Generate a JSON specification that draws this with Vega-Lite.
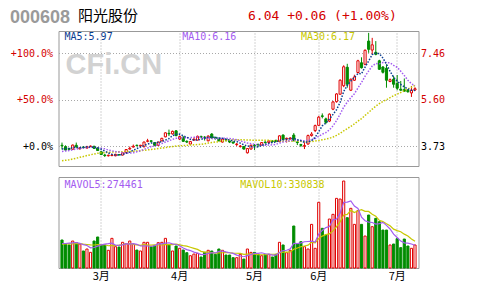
{
  "$schema": "https://vega.github.io/schema/vega-lite/v6.json",
  "background": "white",
  "padding": {"left": 8.5, "top": 7, "right": 0, "bottom": 0},
  "autosize": {"type": "pad"},
  "config": {
    "view": {"stroke": "#999999", "strokeWidth": 1},
    "axis": {"gridColor": "#a8a8a8", "gridDash": [1, 2], "gridWidth": 1, "gridOpacity": 1, "ticks": false, "tickSize": 0, "domain": false, "labelFont": "DejaVu Sans Mono", "labelFontSize": 10, "labelColor": "black", "titleFontWeight": "normal"}
  },
  "data": {"values": [
    {"d":"2009-02-13","o":3.77,"h":3.88,"l":3.60,"c":3.75,"v":351000,"m5":3.62,"m10":3.52,"m30":3.15,"v5":300000,"v10":290000},
    {"d":"2009-02-16","o":3.72,"h":3.77,"l":3.55,"c":3.58,"v":292000,"m5":3.64,"m10":3.54,"m30":3.17,"v5":300000,"v10":292000},
    {"d":"2009-02-17","o":3.64,"h":3.67,"l":3.57,"c":3.61,"v":278000,"m5":3.64,"m10":3.56,"m30":3.19,"v5":305000,"v10":293000},
    {"d":"2009-02-18","o":3.61,"h":3.80,"l":3.59,"c":3.78,"v":336000,"m5":3.68,"m10":3.59,"m30":3.22,"v5":310000,"v10":295000},
    {"d":"2009-02-19","o":3.77,"h":3.88,"l":3.65,"c":3.72,"v":312000,"m5":3.69,"m10":3.62,"m30":3.25,"v5":314000,"v10":297000},
    {"d":"2009-02-20","o":3.63,"h":3.70,"l":3.60,"c":3.66,"v":292000,"m5":3.67,"m10":3.64,"m30":3.29,"v5":302000,"v10":298000},
    {"d":"2009-02-23","o":3.70,"h":3.74,"l":3.64,"c":3.68,"v":190000,"m5":3.69,"m10":3.66,"m30":3.32,"v5":282000,"v10":290000},
    {"d":"2009-02-24","o":3.66,"h":3.75,"l":3.64,"c":3.71,"v":219000,"m5":3.71,"m10":3.68,"m30":3.36,"v5":270000,"v10":285000},
    {"d":"2009-02-25","o":3.72,"h":3.76,"l":3.70,"c":3.74,"v":170000,"m5":3.70,"m10":3.69,"m30":3.39,"v5":237000,"v10":280000},
    {"d":"2009-02-26","o":3.73,"h":3.75,"l":3.62,"c":3.65,"v":336000,"m5":3.69,"m10":3.69,"m30":3.42,"v5":241000,"v10":278000},
    {"d":"2009-02-27","o":3.66,"h":3.70,"l":3.55,"c":3.56,"v":395000,"m5":3.67,"m10":3.67,"m30":3.45,"v5":262000,"v10":282000},
    {"d":"2009-03-02","o":3.51,"h":3.53,"l":3.38,"c":3.40,"v":278000,"m5":3.61,"m10":3.65,"m30":3.47,"v5":280000,"v10":281000},
    {"d":"2009-03-03","o":3.38,"h":3.43,"l":3.30,"c":3.36,"v":278000,"m5":3.54,"m10":3.63,"m30":3.48,"v5":291000,"v10":281000},
    {"d":"2009-03-04","o":3.35,"h":3.40,"l":3.32,"c":3.37,"v":200000,"m5":3.46,"m10":3.58,"m30":3.49,"v5":297000,"v10":267000},
    {"d":"2009-03-05","o":3.36,"h":3.42,"l":3.33,"c":3.38,"v":375000,"m5":3.41,"m10":3.55,"m30":3.50,"v5":305000,"v10":273000},
    {"d":"2009-03-06","o":3.35,"h":3.43,"l":3.33,"c":3.41,"v":253000,"m5":3.38,"m10":3.52,"m30":3.50,"v5":277000,"v10":269000},
    {"d":"2009-03-09","o":3.40,"h":3.42,"l":3.35,"c":3.39,"v":248000,"m5":3.38,"m10":3.50,"m30":3.51,"v5":271000,"v10":275000},
    {"d":"2009-03-10","o":3.38,"h":3.49,"l":3.36,"c":3.47,"v":317000,"m5":3.40,"m10":3.47,"m30":3.51,"v5":279000,"v10":285000},
    {"d":"2009-03-11","o":3.48,"h":3.62,"l":3.46,"c":3.60,"v":297000,"m5":3.45,"m10":3.46,"m30":3.52,"v5":298000,"v10":298000},
    {"d":"2009-03-12","o":3.62,"h":3.72,"l":3.60,"c":3.65,"v":336000,"m5":3.50,"m10":3.46,"m30":3.52,"v5":290000,"v10":298000},
    {"d":"2009-03-13","o":3.70,"h":3.80,"l":3.68,"c":3.73,"v":288000,"m5":3.57,"m10":3.47,"m30":3.53,"v5":297000,"v10":287000},
    {"d":"2009-03-16","o":3.77,"h":3.80,"l":3.72,"c":3.76,"v":204000,"m5":3.64,"m10":3.51,"m30":3.54,"v5":288000,"v10":280000},
    {"d":"2009-03-17","o":3.74,"h":3.79,"l":3.72,"c":3.77,"v":190000,"m5":3.70,"m10":3.55,"m30":3.55,"v5":263000,"v10":271000},
    {"d":"2009-03-18","o":3.71,"h":3.92,"l":3.69,"c":3.90,"v":317000,"m5":3.76,"m10":3.61,"m30":3.57,"v5":267000,"v10":283000},
    {"d":"2009-03-19","o":3.93,"h":4.03,"l":3.89,"c":3.95,"v":317000,"m5":3.82,"m10":3.66,"m30":3.59,"v5":263000,"v10":277000},
    {"d":"2009-03-20","o":3.95,"h":3.97,"l":3.88,"c":3.93,"v":253000,"m5":3.86,"m10":3.72,"m30":3.60,"v5":256000,"v10":277000},
    {"d":"2009-03-23","o":3.88,"h":3.90,"l":3.74,"c":3.76,"v":268000,"m5":3.86,"m10":3.75,"m30":3.62,"v5":269000,"v10":279000},
    {"d":"2009-03-24","o":3.77,"h":3.92,"l":3.75,"c":3.90,"v":312000,"m5":3.89,"m10":3.80,"m30":3.64,"v5":293000,"v10":278000},
    {"d":"2009-03-25","o":3.95,"h":4.07,"l":3.93,"c":4.05,"v":317000,"m5":3.92,"m10":3.84,"m30":3.66,"v5":293000,"v10":280000},
    {"d":"2009-03-26","o":4.11,"h":4.29,"l":4.09,"c":4.27,"v":375000,"m5":3.98,"m10":3.90,"m30":3.68,"v5":305000,"v10":284000},
    {"d":"2009-03-27","o":4.25,"h":4.40,"l":4.14,"c":4.23,"v":278000,"m5":4.04,"m10":3.95,"m30":3.70,"v5":310000,"v10":283000},
    {"d":"2009-03-30","o":4.23,"h":4.36,"l":4.20,"c":4.33,"v":190000,"m5":4.16,"m10":4.01,"m30":3.72,"v5":294000,"v10":282000},
    {"d":"2009-03-31","o":4.35,"h":4.38,"l":4.13,"c":4.16,"v":263000,"m5":4.21,"m10":4.05,"m30":3.74,"v5":285000,"v10":289000},
    {"d":"2009-04-01","o":4.02,"h":4.16,"l":3.98,"c":4.12,"v":229000,"m5":4.22,"m10":4.07,"m30":3.75,"v5":267000,"v10":280000},
    {"d":"2009-04-02","o":4.10,"h":4.13,"l":3.91,"c":3.93,"v":204000,"m5":4.15,"m10":4.07,"m30":3.76,"v5":233000,"v10":269000},
    {"d":"2009-04-03","o":3.93,"h":3.97,"l":3.86,"c":3.90,"v":165000,"m5":4.09,"m10":4.07,"m30":3.77,"v5":210000,"v10":260000},
    {"d":"2009-04-07","o":3.82,"h":3.94,"l":3.80,"c":3.92,"v":121000,"m5":4.01,"m10":4.08,"m30":3.78,"v5":196000,"v10":245000},
    {"d":"2009-04-08","o":3.98,"h":4.08,"l":3.95,"c":4.01,"v":145000,"m5":3.98,"m10":4.09,"m30":3.79,"v5":173000,"v10":229000},
    {"d":"2009-04-09","o":3.98,"h":4.16,"l":3.96,"c":4.13,"v":155000,"m5":3.98,"m10":4.10,"m30":3.80,"v5":158000,"v10":213000},
    {"d":"2009-04-10","o":4.12,"h":4.16,"l":4.06,"c":4.10,"v":102000,"m5":4.01,"m10":4.08,"m30":3.81,"v5":138000,"v10":185000},
    {"d":"2009-04-13","o":4.10,"h":4.14,"l":3.96,"c":4.08,"v":170000,"m5":4.05,"m10":4.07,"m30":3.83,"v5":139000,"v10":174000},
    {"d":"2009-04-14","o":3.95,"h":4.17,"l":3.93,"c":4.14,"v":200000,"m5":4.09,"m10":4.05,"m30":3.86,"v5":154000,"v10":175000},
    {"d":"2009-04-15","o":4.22,"h":4.26,"l":4.04,"c":4.06,"v":190000,"m5":4.10,"m10":4.04,"m30":3.88,"v5":163000,"v10":168000},
    {"d":"2009-04-16","o":4.07,"h":4.12,"l":4.00,"c":4.05,"v":141000,"m5":4.09,"m10":4.03,"m30":3.90,"v5":161000,"v10":159000},
    {"d":"2009-04-17","o":4.05,"h":4.08,"l":3.93,"c":3.95,"v":219000,"m5":4.06,"m10":4.04,"m30":3.92,"v5":184000,"v10":161000},
    {"d":"2009-04-20","o":3.90,"h":4.06,"l":3.88,"c":4.02,"v":200000,"m5":4.05,"m10":4.05,"m30":3.94,"v5":190000,"v10":164000},
    {"d":"2009-04-21","o":4.00,"h":4.03,"l":3.92,"c":3.98,"v":131000,"m5":4.01,"m10":4.05,"m30":3.96,"v5":176000,"v10":165000},
    {"d":"2009-04-22","o":3.94,"h":3.96,"l":3.86,"c":3.90,"v":131000,"m5":3.98,"m10":4.04,"m30":3.98,"v5":164000,"v10":164000},
    {"d":"2009-04-23","o":3.90,"h":3.92,"l":3.84,"c":3.86,"v":92000,"m5":3.94,"m10":4.02,"m30":3.99,"v5":155000,"v10":158000},
    {"d":"2009-04-24","o":3.80,"h":3.86,"l":3.74,"c":3.82,"v":92000,"m5":3.92,"m10":3.99,"m30":3.99,"v5":129000,"v10":157000},
    {"d":"2009-04-27","o":3.72,"h":3.78,"l":3.68,"c":3.74,"v":141000,"m5":3.86,"m10":3.95,"m30":3.99,"v5":117000,"v10":154000},
    {"d":"2009-04-28","o":3.72,"h":3.74,"l":3.60,"c":3.62,"v":72000,"m5":3.79,"m10":3.90,"m30":3.99,"v5":106000,"v10":141000},
    {"d":"2009-04-29","o":3.47,"h":3.66,"l":3.44,"c":3.64,"v":219000,"m5":3.74,"m10":3.86,"m30":3.98,"v5":123000,"v10":144000},
    {"d":"2009-04-30","o":3.62,"h":3.80,"l":3.60,"c":3.77,"v":170000,"m5":3.72,"m10":3.83,"m30":3.98,"v5":139000,"v10":147000},
    {"d":"2009-05-04","o":3.76,"h":3.82,"l":3.58,"c":3.74,"v":170000,"m5":3.70,"m10":3.81,"m30":3.97,"v5":154000,"v10":142000},
    {"d":"2009-05-05","o":3.81,"h":3.83,"l":3.70,"c":3.79,"v":141000,"m5":3.71,"m10":3.79,"m30":3.97,"v5":154000,"v10":136000},
    {"d":"2009-05-06","o":3.78,"h":3.90,"l":3.76,"c":3.88,"v":121000,"m5":3.76,"m10":3.78,"m30":3.97,"v5":164000,"v10":135000},
    {"d":"2009-05-07","o":3.90,"h":3.93,"l":3.84,"c":3.88,"v":141000,"m5":3.81,"m10":3.77,"m30":3.97,"v5":149000,"v10":136000},
    {"d":"2009-05-08","o":3.88,"h":3.98,"l":3.86,"c":3.94,"v":141000,"m5":3.85,"m10":3.78,"m30":3.97,"v5":143000,"v10":141000},
    {"d":"2009-05-11","o":3.94,"h":3.97,"l":3.88,"c":3.92,"v":102000,"m5":3.88,"m10":3.79,"m30":3.95,"v5":129000,"v10":142000},
    {"d":"2009-05-12","o":3.97,"h":3.99,"l":3.90,"c":3.92,"v":141000,"m5":3.91,"m10":3.81,"m30":3.94,"v5":129000,"v10":142000},
    {"d":"2009-05-13","o":3.92,"h":4.17,"l":3.90,"c":4.15,"v":317000,"m5":3.96,"m10":3.86,"m30":3.94,"v5":168000,"v10":166000},
    {"d":"2009-05-14","o":4.18,"h":4.21,"l":3.98,"c":4.00,"v":278000,"m5":3.99,"m10":3.90,"m30":3.93,"v5":196000,"v10":172000},
    {"d":"2009-05-15","o":4.02,"h":4.08,"l":3.88,"c":4.05,"v":165000,"m5":4.01,"m10":3.93,"m30":3.93,"v5":201000,"v10":172000},
    {"d":"2009-05-18","o":4.03,"h":4.10,"l":4.00,"c":4.06,"v":200000,"m5":4.04,"m10":3.96,"m30":3.93,"v5":220000,"v10":175000},
    {"d":"2009-05-19","o":4.18,"h":4.26,"l":3.92,"c":3.97,"v":556000,"m5":4.05,"m10":3.98,"m30":3.94,"v5":303000,"v10":216000},
    {"d":"2009-05-20","o":3.90,"h":3.95,"l":3.78,"c":3.88,"v":292000,"m5":3.99,"m10":3.98,"m30":3.94,"v5":298000,"v10":233000},
    {"d":"2009-05-21","o":3.80,"h":3.83,"l":3.70,"c":3.77,"v":326000,"m5":3.95,"m10":3.97,"m30":3.93,"v5":308000,"v10":252000},
    {"d":"2009-05-22","o":3.73,"h":3.89,"l":3.62,"c":3.76,"v":253000,"m5":3.89,"m10":3.95,"m30":3.92,"v5":325000,"v10":263000},
    {"d":"2009-05-25","o":3.82,"h":4.20,"l":3.80,"c":4.16,"v":219000,"m5":3.91,"m10":3.97,"m30":3.92,"v5":329000,"v10":275000},
    {"d":"2009-05-26","o":4.16,"h":4.30,"l":4.12,"c":4.22,"v":580000,"m5":3.96,"m10":4.00,"m30":3.92,"v5":334000,"v10":319000},
    {"d":"2009-05-27","o":4.36,"h":4.60,"l":4.30,"c":4.56,"v":229000,"m5":4.09,"m10":4.04,"m30":3.94,"v5":321000,"v10":310000},
    {"d":"2009-06-01","o":4.57,"h":4.95,"l":4.55,"c":4.90,"v":903000,"m5":4.32,"m10":4.13,"m30":3.96,"v5":437000,"v10":372000},
    {"d":"2009-06-02","o":4.95,"h":5.05,"l":4.85,"c":4.93,"v":522000,"m5":4.55,"m10":4.22,"m30":3.99,"v5":491000,"v10":408000},
    {"d":"2009-06-03","o":4.83,"h":4.88,"l":4.62,"c":4.69,"v":424000,"m5":4.66,"m10":4.28,"m30":4.02,"v5":532000,"v10":430000},
    {"d":"2009-06-04","o":4.74,"h":5.05,"l":4.70,"c":5.02,"v":658000,"m5":4.82,"m10":4.39,"m30":4.05,"v5":547000,"v10":441000},
    {"d":"2009-06-05","o":5.22,"h":5.55,"l":5.18,"c":5.51,"v":727000,"m5":5.01,"m10":4.55,"m30":4.10,"v5":647000,"v10":484000},
    {"d":"2009-06-08","o":5.52,"h":5.86,"l":5.48,"c":5.83,"v":961000,"m5":5.20,"m10":4.76,"m30":4.17,"v5":658000,"v10":548000},
    {"d":"2009-06-09","o":5.82,"h":6.42,"l":5.80,"c":6.38,"v":951000,"m5":5.49,"m10":5.02,"m30":4.25,"v5":744000,"v10":617000},
    {"d":"2009-06-10","o":6.16,"h":6.98,"l":6.10,"c":6.92,"v":1215000,"m5":5.93,"m10":5.30,"m30":4.35,"v5":902000,"v10":717000},
    {"d":"2009-06-11","o":6.90,"h":7.04,"l":6.08,"c":6.22,"v":678000,"m5":6.17,"m10":5.50,"m30":4.44,"v5":906000,"v10":727000},
    {"d":"2009-06-12","o":5.98,"h":6.45,"l":5.95,"c":6.42,"v":815000,"m5":6.35,"m10":5.68,"m30":4.53,"v5":924000,"v10":785000},
    {"d":"2009-06-15","o":6.38,"h":6.60,"l":6.35,"c":6.51,"v":580000,"m5":6.49,"m10":5.84,"m30":4.63,"v5":848000,"v10":753000},
    {"d":"2009-06-16","o":6.69,"h":7.20,"l":6.65,"c":7.16,"v":781000,"m5":6.65,"m10":6.07,"m30":4.74,"v5":814000,"v10":779000},
    {"d":"2009-06-17","o":7.08,"h":7.30,"l":6.85,"c":6.88,"v":580000,"m5":6.64,"m10":6.29,"m30":4.84,"v5":687000,"v10":795000},
    {"d":"2009-06-18","o":7.02,"h":7.62,"l":6.98,"c":7.58,"v":409000,"m5":6.91,"m10":6.54,"m30":4.97,"v5":633000,"v10":770000},
    {"d":"2009-06-19","o":7.95,"h":8.28,"l":7.48,"c":7.62,"v":717000,"m5":7.15,"m10":6.75,"m30":5.09,"v5":613000,"v10":769000},
    {"d":"2009-06-22","o":7.59,"h":8.08,"l":7.42,"c":7.80,"v":546000,"m5":7.41,"m10":6.95,"m30":5.22,"v5":607000,"v10":727000},
    {"d":"2009-06-23","o":7.50,"h":7.95,"l":7.38,"c":7.42,"v":668000,"m5":7.46,"m10":7.05,"m30":5.34,"v5":584000,"v10":699000},
    {"d":"2009-06-24","o":7.16,"h":7.20,"l":6.80,"c":6.82,"v":619000,"m5":7.45,"m10":7.04,"m30":5.44,"v5":592000,"v10":639000},
    {"d":"2009-06-25","o":6.91,"h":6.95,"l":6.65,"c":6.70,"v":497000,"m5":7.27,"m10":7.09,"m30":5.53,"v5":609000,"v10":621000},
    {"d":"2009-06-26","o":6.86,"h":7.02,"l":6.08,"c":6.38,"v":497000,"m5":7.02,"m10":7.09,"m30":5.60,"v5":565000,"v10":589000},
    {"d":"2009-06-29","o":6.33,"h":6.45,"l":6.30,"c":6.40,"v":278000,"m5":6.74,"m10":7.08,"m30":5.68,"v5":512000,"v10":559000},
    {"d":"2009-06-30","o":6.42,"h":6.55,"l":6.08,"c":6.22,"v":292000,"m5":6.50,"m10":6.98,"m30":5.76,"v5":437000,"v10":510000},
    {"d":"2009-07-01","o":6.25,"h":6.59,"l":5.98,"c":6.06,"v":370000,"m5":6.35,"m10":6.90,"m30":5.82,"v5":387000,"v10":489000},
    {"d":"2009-07-02","o":6.02,"h":6.35,"l":5.96,"c":5.98,"v":239000,"m5":6.21,"m10":6.74,"m30":5.89,"v5":335000,"v10":472000},
    {"d":"2009-07-03","o":6.00,"h":6.45,"l":5.92,"c":5.94,"v":365000,"m5":6.12,"m10":6.57,"m30":5.96,"v5":309000,"v10":437000},
    {"d":"2009-07-06","o":5.98,"h":6.02,"l":5.88,"c":5.92,"v":263000,"m5":6.02,"m10":6.38,"m30":6.03,"v5":306000,"v10":409000},
    {"d":"2009-07-07","o":5.87,"h":6.15,"l":5.71,"c":5.98,"v":229000,"m5":5.98,"m10":6.24,"m30":6.10,"v5":293000,"v10":365000},
    {"d":"2009-07-08","o":5.99,"h":6.10,"l":5.95,"c":6.04,"v":278000,"m5":5.97,"m10":6.16,"m30":6.17,"v5":274461,"v10":330838}
  ]},
  "spacing": 11,
  "bounds": "flush",
  "resolve": {"scale": {"x": "independent"}, "axis": {"x": "independent"}},
  "vconcat": [
    {
      "width": 360,
      "height": 135,
      "layer": [
        {
          "data": {"values": [{}]},
          "mark": {"type": "text", "text": "CFi.CN", "align": "left", "baseline": "alphabetic", "font": "Liberation Sans", "fontWeight": "bold", "fontSize": 29, "color": "#d2d2d2"},
          "encoding": {
            "x": {"datum": "2009-02-16", "type": "ordinal"},
            "y": {"datum": 6.63, "type": "quantitative", "scale": {"domain": [2.94, 8.355], "nice": false, "zero": false}, "axis": null}
          }
        },
        {
          "mark": {"type": "rule", "strokeWidth": 1},
          "encoding": {
            "x": {"field": "d", "type": "ordinal", "scale": {"type": "band", "paddingInner": 0.4, "paddingOuter": 0.68}, "axis": {"orient": "top", "values": ["2009-03-02", "2009-04-01", "2009-05-04", "2009-06-01", "2009-07-01"], "labels": false, "grid": true, "title": "000608", "titleX": -49, "titleY": -9, "titleAlign": "left", "titleBaseline": "alphabetic", "titleAngle": 0, "titleFont": "Liberation Sans", "titleFontWeight": "bold", "titleFontSize": 18, "titleColor": "#9a9a9a"}},
            "y": {"field": "h", "type": "quantitative", "scale": {"domain": [2.94, 8.355], "nice": false, "zero": false}, "axis": {"orient": "left", "values": [3.73, 5.5951, 7.46], "labelExpr": "'+' + format((datum.value/3.73-1)*100, '.1f') + '%'", "labelColor": {"condition": {"test": "datum.value > 4", "value": "#d40000"}, "value": "black"}, "grid": true, "labelPadding": 6, "title": "阳光股份", "titleX": 19, "titleY": -10.5, "titleAlign": "left", "titleBaseline": "alphabetic", "titleAngle": 0, "titleFont": "Noto Sans CJK SC", "titleFontSize": 15, "titleColor": "black"}},
            "y2": {"field": "l"},
            "color": {"condition": {"test": "datum.c >= datum.o", "value": "#e00000"}, "value": "#008c00"}
          }
        },
        {
          "mark": {"type": "bar", "strokeWidth": 1},
          "encoding": {
            "x": {"field": "d", "type": "ordinal"},
            "y": {"field": "o", "type": "quantitative", "axis": {"orient": "right", "values": [3.73, 5.5951, 7.46], "format": ".2f", "labelColor": {"condition": {"test": "datum.value > 4", "value": "#d40000"}, "value": "black"}, "grid": false, "labelPadding": 2, "title": "6.04 +0.06 (+1.00%)", "titleX": -171, "titleY": -12, "titleAlign": "left", "titleBaseline": "alphabetic", "titleAngle": 0, "titleFont": "DejaVu Sans Mono", "titleFontSize": 13, "titleColor": "#d40000"}},
            "y2": {"field": "c"},
            "fill": {"condition": {"test": "datum.c >= datum.o", "value": "white"}, "value": "#008c00"},
            "stroke": {"condition": {"test": "datum.c >= datum.o", "value": "#e00000"}, "value": "#008c00"}
          }
        },
        {
          "mark": {"type": "line", "color": "#c8c800", "strokeWidth": 1.5, "strokeDash": [1.5, 1.5]},
          "encoding": {"x": {"field": "d", "type": "ordinal"}, "y": {"field": "m30", "type": "quantitative", "axis": null}}
        },
        {
          "mark": {"type": "line", "color": "#a35cf0", "strokeWidth": 1.5, "strokeDash": [1.5, 1.5]},
          "encoding": {"x": {"field": "d", "type": "ordinal"}, "y": {"field": "m10", "type": "quantitative", "axis": null}}
        },
        {
          "mark": {"type": "line", "color": "#0b3d91", "strokeWidth": 1.5, "strokeDash": [1.5, 1.5]},
          "encoding": {"x": {"field": "d", "type": "ordinal"}, "y": {"field": "m5", "type": "quantitative", "axis": null}}
        },
        {
          "data": {"values": [{}]},
          "mark": {"type": "text", "text": "MA5:5.97", "align": "left", "baseline": "middle", "font": "DejaVu Sans Mono", "fontSize": 10, "color": "#0b3d91"},
          "encoding": {
            "x": {"datum": "2009-02-16", "type": "ordinal", "bandPosition": 0},
            "y": {"datum": 8.1, "type": "quantitative", "axis": null}
          }
        },
        {
          "data": {"values": [{}]},
          "mark": {"type": "text", "text": "MA10:6.16", "align": "left", "baseline": "middle", "font": "DejaVu Sans Mono", "fontSize": 10, "color": "#a35cf0"},
          "encoding": {
            "x": {"datum": "2009-04-02", "type": "ordinal", "bandPosition": 0},
            "y": {"datum": 8.1, "type": "quantitative", "axis": null}
          }
        },
        {
          "data": {"values": [{}]},
          "mark": {"type": "text", "text": "MA30:6.17", "align": "left", "baseline": "middle", "font": "DejaVu Sans Mono", "fontSize": 10, "color": "#c8c800"},
          "encoding": {
            "x": {"datum": "2009-05-21", "type": "ordinal"},
            "y": {"datum": 8.1, "type": "quantitative", "axis": null}
          }
        }
      ],
      "resolve": {"axis": {"y": "independent"}}
    },
    {
      "width": 360,
      "height": 91,
      "layer": [
        {
          "mark": {"type": "bar", "strokeWidth": 1},
          "encoding": {
            "x": {"field": "d", "type": "ordinal", "scale": {"type": "band", "paddingInner": 0.4, "paddingOuter": 0.68}, "axis": {"orient": "bottom", "values": ["2009-03-02", "2009-04-01", "2009-05-04", "2009-06-01", "2009-07-01"], "labelExpr": "toNumber(slice(datum.value, 5, 7)) + '月'", "grid": true, "labelAngle": 0, "labelOverlap": false, "labelFont": "Noto Sans CJK SC", "labelFontSize": 11, "labelPadding": 2, "title": null}},
            "y": {"field": "v", "type": "quantitative", "scale": {"domain": [-59300, 1274000], "nice": false, "zero": false}, "axis": {"orient": "right", "values": [200000, 600000, 1000000], "format": "d", "grid": true, "labelPadding": 3, "title": null}},
            "y2": {"datum": -59300},
            "fill": {"condition": {"test": "datum.c >= datum.o", "value": "white"}, "value": "#008c00"},
            "stroke": {"condition": {"test": "datum.c >= datum.o", "value": "#e00000"}, "value": "#008c00"}
          }
        },
        {
          "mark": {"type": "line", "color": "#c8c800", "strokeWidth": 1.2},
          "encoding": {"x": {"field": "d", "type": "ordinal"}, "y": {"field": "v10", "type": "quantitative", "axis": null}}
        },
        {
          "mark": {"type": "line", "color": "#a35cf0", "strokeWidth": 1.2},
          "encoding": {"x": {"field": "d", "type": "ordinal"}, "y": {"field": "v5", "type": "quantitative", "axis": null}}
        },
        {
          "data": {"values": [{}]},
          "mark": {"type": "text", "text": "MAVOL5:274461", "align": "left", "baseline": "middle", "font": "DejaVu Sans Mono", "fontSize": 10, "color": "#a35cf0"},
          "encoding": {
            "x": {"datum": "2009-02-16", "type": "ordinal", "bandPosition": 0},
            "y": {"datum": 1160000, "type": "quantitative", "axis": null}
          }
        },
        {
          "data": {"values": [{}]},
          "mark": {"type": "text", "text": "MAVOL10:330838", "align": "left", "baseline": "middle", "font": "DejaVu Sans Mono", "fontSize": 10, "color": "#c8c800"},
          "encoding": {
            "x": {"datum": "2009-04-27", "type": "ordinal"},
            "y": {"datum": 1160000, "type": "quantitative", "axis": null}
          }
        }
      ]
    }
  ]
}
